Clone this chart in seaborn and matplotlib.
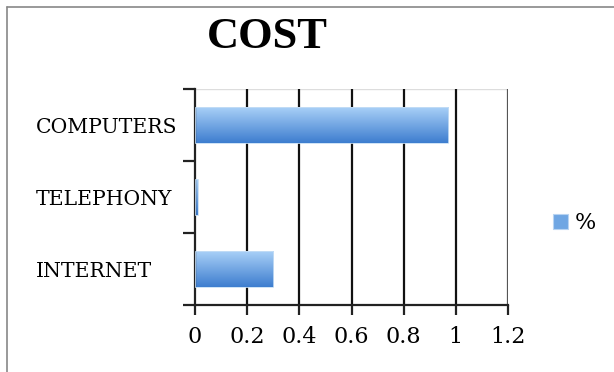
import numpy as np
import pandas as pd
import matplotlib
matplotlib.use("Agg")
import matplotlib.pyplot as plt
import seaborn as sns
from matplotlib.colors import LinearSegmentedColormap
from matplotlib.patches import Rectangle
from matplotlib.transforms import blended_transform_factory, offset_copy

categories = ["COMPUTERS", "TELEPHONY", "INTERNET"]
values = [0.97, 0.01, 0.30]
xticks = [0, 0.2, 0.4, 0.6, 0.8, 1, 1.2]
xticklabels = ["0", "0.2", "0.4", "0.6", "0.8", "1", "1.2"]
series_name = "%"
title = "COST"

sns.set_style("white")
plt.rcParams['font.family'] = ['DejaVu Serif']
plt.rcParams['text.color'] = 'black'
plt.rcParams['xtick.color'] = 'black'
plt.rcParams['ytick.color'] = 'black'

df = pd.DataFrame({"category": categories, "value": values})

fig = plt.figure(figsize=(6.14, 3.72), dpi=100)
ax = fig.add_axes([195/614, 1-305/372, (508-195)/614, (305-89)/372])

sns.barplot(data=df, x="value", y="category", orient="h", ax=ax,
            color="#5b9bd5", width=0.5, order=categories)

cmap = LinearSegmentedColormap.from_list("g", ["#a9d0f7", "#3d7dcf"])
grad = np.linspace(0, 1, 256).reshape(-1, 1)
for p in ax.patches:
    x0, y0 = p.get_x(), p.get_y()
    w, h = p.get_width(), p.get_height()
    p.set_facecolor("none")
    p.set_edgecolor("#c6def5")
    p.set_linewidth(0.6)
    im = ax.imshow(grad, cmap=cmap, aspect="auto",
                   extent=[x0, x0 + w, y0 + h, y0], zorder=2, interpolation="bicubic")
    im.set_clip_path(p)
    p.set_zorder(3)

ax.set_xlim(0, 1.2)
ax.set_ylim(2.5, -0.5)
ax.set_xticks(xticks)
ax.set_xticklabels(xticklabels, fontsize=16)
ax.set_yticks(range(len(categories)))
ax.set_yticklabels([])
ax.set_yticks([-0.5, 0.5, 1.5, 2.5], minor=True)
ax.tick_params(axis="y", which="major", length=0)
ax.tick_params(axis="y", which="minor", length=9, width=1.6, color="#222222", direction="out", left=True)
ax.tick_params(axis="x", which="major", length=7, width=1.6, color="#222222", direction="out", bottom=True, pad=8)
ax.set_xlabel("")
ax.set_ylabel("")

trans = offset_copy(blended_transform_factory(fig.transFigure, ax.transData), fig=fig, x=0, y=-2, units="dots")
for i, c in enumerate(categories):
    ax.text(36/614, i, c, transform=trans, ha="left", va="center", fontsize=14.7, color="black")

ax.grid(False)
for xv in xticks[1:]:
    ax.axvline(xv, color="#111111" if xv < 1.1 else "#555555", lw=1.6, zorder=1)

for s in ["top", "right"]:
    ax.spines[s].set_visible(False)
ax.spines["left"].set_color("#222222")
ax.spines["left"].set_linewidth(1.6)
ax.spines["bottom"].set_color("#222222")
ax.spines["bottom"].set_linewidth(1.6)
ax.axhline(-0.5, color="#dddddd", lw=1.0, zorder=0)

fig.text(267/614, 1-37/372, title, ha="center", va="center", fontsize=32,
         fontweight="bold", family=["Liberation Serif", "DejaVu Serif"])

# legend
fig.patches.append(Rectangle((553/614, 1-229/372), 15/614, 15/372,
                             transform=fig.transFigure, facecolor="#6fa6e3",
                             edgecolor="#b8d4f2", lw=0.8))
fig.text(575/614, 1-223/372, series_name, ha="left", va="center", fontsize=16)

# outer frame
fig.add_artist(plt.Line2D([7/614, 1], [1-7/372, 1-7/372], transform=fig.transFigure, color="#888888", lw=1.2))
fig.add_artist(plt.Line2D([7/614, 7/614], [0, 1-7/372], transform=fig.transFigure, color="#888888", lw=1.2))

fig.savefig("out.png", dpi=100)
